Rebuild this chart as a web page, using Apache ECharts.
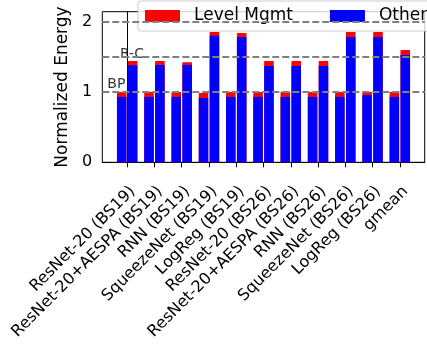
<!DOCTYPE html>
<html>
<head>
<meta charset="utf-8">
<script src="https://cdn.jsdelivr.net/npm/echarts@6/dist/echarts.min.js"></script>
<style>
html,body{margin:0;padding:0;background:#fff;}
#chart{width:427px;height:345px;}
</style>
</head>
<body>
<div id="chart"></div>
<script>
var categories = ['ResNet-20 (BS19)', 'ResNet-20+AESPA (BS19)', 'RNN (BS19)', 'SqueezeNet (BS19)', 'LogReg (BS19)',
  'ResNet-20 (BS26)', 'ResNet-20+AESPA (BS26)', 'RNN (BS26)', 'SqueezeNet (BS26)', 'LogReg (BS26)', 'gmean'];
var bpOther    = [0.93, 0.93, 0.93, 0.915, 0.93, 0.93, 0.93, 0.93, 0.93, 0.955, 0.93];
var bpLevel    = [0.07, 0.07, 0.07, 0.07, 0.07, 0.07, 0.07, 0.07, 0.07, 0.045, 0.07];
var rcOther    = [1.38, 1.385, 1.385, 1.80, 1.782, 1.37, 1.37, 1.37, 1.782, 1.782, 1.526];
var rcLevel    = [0.061, 0.056, 0.037, 0.053, 0.057, 0.071, 0.071, 0.071, 0.071, 0.071, 0.071];
var refLines   = [1, 1.5, 2];
var refLabels  = ['BP', 'R-C'];
var yTicks     = [0, 1, 2];

var FONT = 'DejaVu Sans';
var n = categories.length;
var barW = 0.35, off = 0.2;
var xMin = -off - barW / 2, xMax = (n - 1) + off + barW / 2;
var pad = (xMax - xMin) * 0.05;
xMin -= pad; xMax += pad;

var gridLeft = 102.3, gridRight = 2.3, gridTop = 11.7, gridBottom = 182.7;
var plotW = 427 - gridLeft - gridRight;
var pxPerUnit = plotW / (xMax - xMin);
var barPx = barW * pxPerUnit;

// stacked: the top segment (Level Mgmt) spans other .. other+level
function totals(other, level) { return other.map(function (v, i) { return v + level[i]; }); }
function pts(arr, dx) { return arr.map(function (v, i) { return [i + dx, v]; }); }
var idx = categories.map(function (_, i) { return i; });

function barSeries(name, data, color) {
  return {
    type: 'bar', name: name, data: data,
    barWidth: barPx, barGap: '-100%',
    itemStyle: { color: color },
    emphasis: { disabled: true }, animation: false
  };
}

var chart = echarts.init(document.getElementById('chart'), null, { renderer: 'canvas' });
chart.setOption({
  animation: false,
  grid: { left: gridLeft, right: gridRight, top: gridTop, bottom: gridBottom,
          outerBoundsMode: 'none', containLabel: false,
          show: true, borderColor: '#000', borderWidth: 1, backgroundColor: 'transparent' },
  legend: {
    data: ['Level Mgmt', 'Other'],
    left: 138, top: 1, width: 420,
    padding: [5, 7, 5, 7],
    itemWidth: 35, itemHeight: 12, itemGap: 37,
    icon: 'rect',
    backgroundColor: 'rgba(255,255,255,0.8)',
    borderColor: '#cccccc', borderWidth: 1, borderRadius: 3,
    textStyle: { fontFamily: FONT, fontSize: 17, color: '#000', lineHeight: 20, padding: [0, 0, 0, 9] },
    selectedMode: false
  },
  xAxis: {
    type: 'value', min: xMin, max: xMax,
    splitLine: { show: false },
    axisLine: { show: true, lineStyle: { color: '#000', width: 1 } },
    axisTick: { show: true, length: 5, lineStyle: { color: '#000' }, customValues: idx },
    axisLabel: {
      customValues: idx, rotate: 45, margin: 21,
      align: 'right', verticalAlign: 'top',
      fontFamily: FONT, fontSize: 16, color: '#000',
      formatter: function (v) { return categories[Math.round(v)]; }
    }
  },
  yAxis: {
    type: 'value', min: 0, max: 2.142,
    name: 'Normalized Energy', nameLocation: 'middle', nameGap: 25,
    nameTextStyle: { fontFamily: FONT, fontSize: 17, color: '#000' },
    splitLine: { show: false },
    axisLine: { show: true, lineStyle: { color: '#000', width: 1 } },
    axisTick: { show: true, length: 5, lineStyle: { color: '#000' }, customValues: yTicks },
    axisLabel: { customValues: yTicks, margin: 10, fontFamily: FONT, fontSize: 16, color: '#000' }
  },
  series: [
    barSeries('Level Mgmt', pts(totals(bpOther, bpLevel), -off), '#ff0000'),
    barSeries('Other', pts(bpOther, -off), '#0000ff'),
    barSeries('Level Mgmt', pts(totals(rcOther, rcLevel), off), '#ff0000'),
    barSeries('Other', pts(rcOther, off), '#0000ff'),
    {
      type: 'scatter', name: 'refs', symbolSize: 0, silent: true,
      data: [
        { name: refLabels[0], value: [-0.73, refLines[0] + 0.107] },
        { name: refLabels[1], value: [-0.265, refLines[1] + 0.04] }
      ],
      label: { show: true, position: 'right', distance: 0, formatter: '{b}',
               fontFamily: FONT, fontSize: 14, color: '#000' },
      markLine: {
        silent: true, symbol: 'none', animation: false,
        label: { show: false },
        lineStyle: { color: '#808080', type: [7, 3], width: 2 },
        data: refLines.map(function (v) { return { yAxis: v }; })
      },
      z: 4
    }
  ]
});
</script>
</body>
</html>
